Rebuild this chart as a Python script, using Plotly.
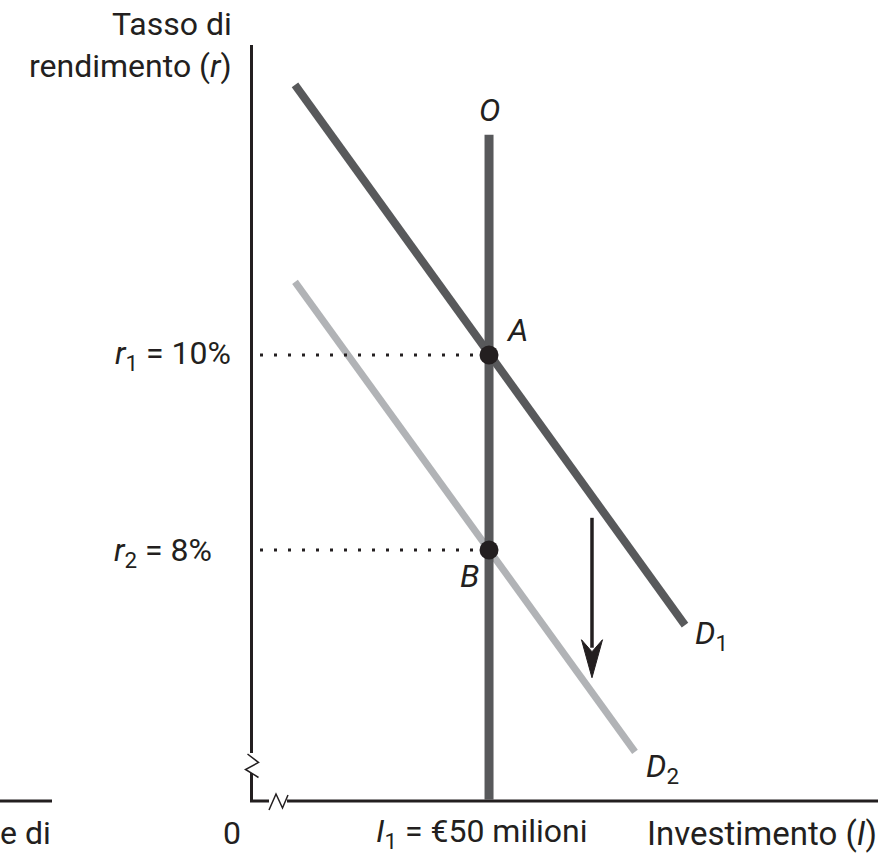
import plotly.graph_objects as go

# ---- data (investment in € millions, rate of return in %) ----
I1 = 50
r_levels = [10, 8]          # r1, r2
point_names = ["A", "B"]

d1_invest = [9.07, 91.34]
d1_rate = [12.77, 7.23]
d2_invest = [9.07, 80.79]
d2_rate = [10.75, 5.93]
supply_invest = [I1, I1]
supply_rate = [12.26, 5.44]

arrow_invest = 71.72
arrow_rate = [8.33, 6.69]

# ---- layout calibration ----
W, H = 884, 859
X_PX0, X_SCALE = 252, 4.7405     # pixel of invest=0, px per unit
Y_PX10, Y_SCALE = 355, 97.5      # pixel of rate=10, px per %

def xr(px):
    return (px - X_PX0) / X_SCALE

def yr(py):
    return 10 + (Y_PX10 - py) / Y_SCALE

def xp(x):
    return X_PX0 + x * X_SCALE

def yp(r):
    return Y_PX10 - (r - 10) * Y_SCALE

DARK = "#58595b"
LIGHT = "#b1b3b6"
INK = "#231f20"
FONT = "Roboto, Liberation Sans Narrow, Arial Narrow, sans-serif"

fig = go.Figure()

# demand curves and supply line
fig.add_trace(go.Scatter(x=d2_invest, y=d2_rate, mode="lines",
                         line=dict(color=LIGHT, width=7), hoverinfo="skip"))
fig.add_trace(go.Scatter(x=d1_invest, y=d1_rate, mode="lines",
                         line=dict(color=DARK, width=8), hoverinfo="skip"))
fig.add_trace(go.Scatter(x=supply_invest, y=supply_rate, mode="lines",
                         line=dict(color=DARK, width=9), hoverinfo="skip"))

# dotted guides
for r in r_levels:
    fig.add_trace(go.Scatter(x=[xr(260), xr(478)], y=[r, r], mode="lines",
                             line=dict(color=INK, width=3, dash="3px,11px"),
                             hoverinfo="skip"))

# equilibrium points
fig.add_trace(go.Scatter(x=[I1] * len(r_levels), y=r_levels, mode="markers",
                         marker=dict(size=19, color=INK), hoverinfo="skip"))

# shift arrow: shaft
fig.add_trace(go.Scatter(x=[arrow_invest, arrow_invest],
                         y=[arrow_rate[0], yr(yp(arrow_rate[1]) - 30)], mode="lines",
                         line=dict(color=INK, width=3.5), hoverinfo="skip"))

shapes = []
def seg(pts, width=3, fill=None):
    path = "M " + " L ".join(f"{xr(px)},{yr(py)}" for px, py in pts)
    d = dict(type="path", path=path, xref="x", yref="y",
             line=dict(color=INK, width=width))
    if fill:
        d["path"] += " Z"
        d["fillcolor"] = fill
    shapes.append(d)

# arrow head (concave), relative to the arrow tip
tx, ty = xp(arrow_invest), yp(arrow_rate[1])
seg([(tx, ty), (tx - 10.5, ty - 38), (tx, ty - 26), (tx + 10.5, ty - 38)], 1, INK)

# axes (broken)
seg([(251.5, 45), (251.5, 753)])
seg([(247.5, 754), (258.5, 762.5), (245.5, 769.5), (258.5, 777.5)], 1.5)
seg([(251.5, 773), (251.5, 801), (269, 801)])
seg([(269, 810), (276, 794), (282.5, 808), (288, 795)], 1.5)
seg([(287, 801), (878, 801)])
# neighbouring panel axis fragment
seg([(0, 801), (52, 801)])

fig.update_layout(shapes=shapes)

def label(text, px, py, xanchor="center", size=32):
    fig.add_annotation(x=px / W, y=1 - py / H, xref="paper", yref="paper",
                       text=text, showarrow=False, xanchor=xanchor, yanchor="middle",
                       font=dict(family=FONT, size=size, color=INK))

label("Tasso di", 234, 24, "right")
label("rendimento (<i>r</i>)", 234, 66, "right")
label(f"<i>r</i><sub>1</sub> = {r_levels[0]}%", 233, 355, "right")
label(f"<i>r</i><sub>2</sub> = {r_levels[1]}%", 214, 552, "right")
label("<i>O</i>", 489, 110)
label(f"<i>{point_names[0]}</i>", 517, 330)
label(f"<i>{point_names[1]}</i>", 469, 576)
label("<i>D</i><sub>1</sub>", 711, 635)
label("<i>D</i><sub>2</sub>", 662, 768)
label("0", 232, 833)
label(f"<i>I</i><sub>1</sub> = €{I1} milioni", 482, 833)
label("Investimento (<i>I</i>)", 879, 833, "right", 33)
label("e di", -2, 833, "left")

fig.update_layout(
    width=W, height=H, autosize=False,
    margin=dict(l=0, r=0, t=0, b=0),
    paper_bgcolor="white", plot_bgcolor="white",
    showlegend=False,
    xaxis=dict(range=[xr(0), xr(W)], visible=False, fixedrange=True),
    yaxis=dict(range=[yr(H), yr(0)], visible=False, fixedrange=True),
)

fig.write_html("out.html", config={"displayModeBar": False},
               post_script="document.body.style.margin='0';")
